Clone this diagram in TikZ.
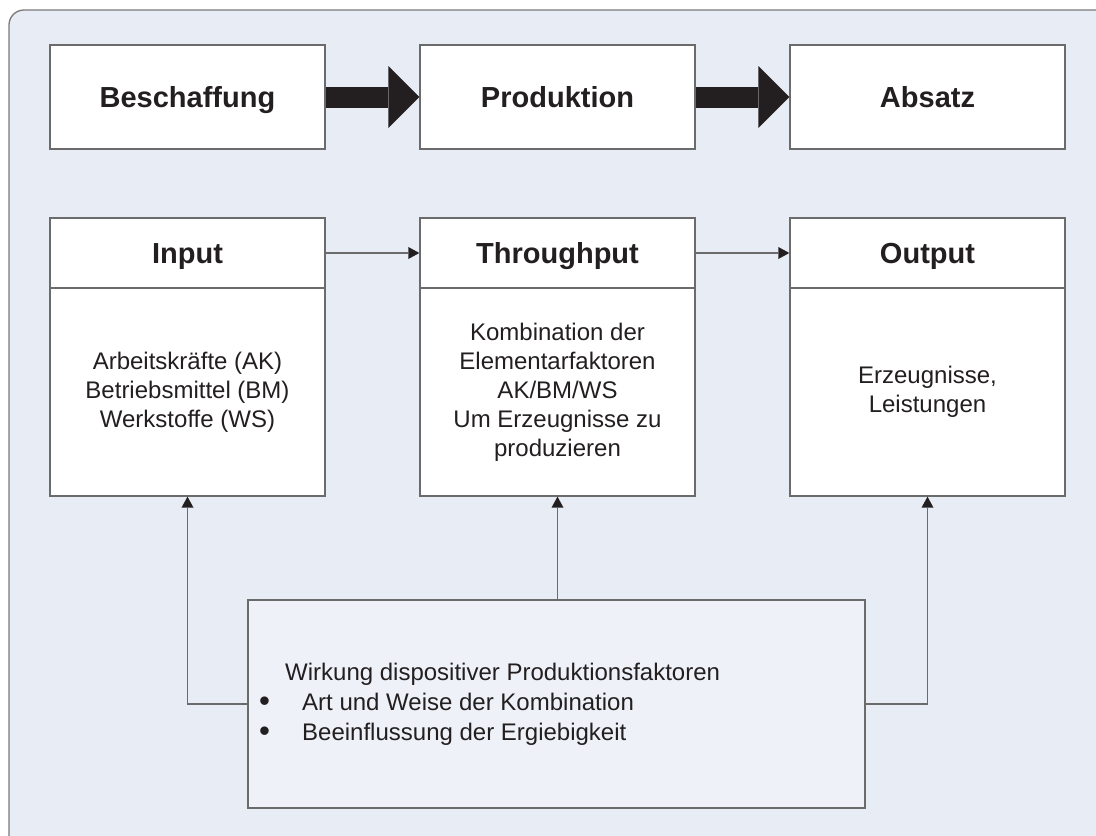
\documentclass[tikz,border=0pt]{standalone}
\usepackage{fontspec}
\setmainfont{Liberation Sans}
\usetikzlibrary{arrows.meta}
\definecolor{bgblue}{HTML}{E8ECF5}
\definecolor{wirkfill}{HTML}{EEF1F7}
\definecolor{boxgray}{HTML}{6B6B6B}
\definecolor{rahmen}{HTML}{7A7A7A}
\definecolor{textdark}{HTML}{231F20}

\newcommand{\dickpunkt}{\makebox[43pt][l]{\smash{\raisebox{-1.5pt}{\scalebox{1.3}{\textbullet}}}}}

\tikzset{
  kasten/.style={draw=boxgray, line width=1.3pt, fill=white, minimum width=275pt, inner sep=0pt, text=textdark},
  titel/.style={kasten, minimum height=104pt, text height=21pt, text depth=0pt, font=\fontsize{29}{34}\selectfont\bfseries},
  kopf/.style={kasten, minimum height=70pt, text height=21pt, text depth=0pt, font=\fontsize{29}{34}\selectfont\bfseries},
  rumpf/.style={kasten, minimum height=208pt, align=center, font=\fontsize{24}{29}\selectfont},
  fluss/.style={draw=textdark, line width=21pt, -{Triangle[length=31pt,width=62pt,line width=0pt]}},
  pfeil/.style={draw=boxgray, line width=1.2pt, -{Triangle[length=11pt,width=12pt,line width=0pt,color=textdark]}},
}

\begin{document}
\begin{tikzpicture}[x=1pt,y=-1pt]
\useasboundingbox (0,0) rectangle (1096,836);
\begin{scope}
\clip (0,0) rectangle (1096,836);
\draw [rahmen, fill=bgblue, line width=1.3pt, rounded corners=15pt] (9,10) rectangle (1120,860);
\end{scope}

\node [titel] (besch) at (187.5,97) {Beschaffung};
\node [titel] (prod) at (557.5,97) {Produktion};
\node [titel] (absatz) at (927.5,97) {Absatz};

\node [kopf] (inkopf) at (187.5,253) {Input};
\node [kopf] (durchkopf) at (557.5,253) {Throughput};
\node [kopf] (outkopf) at (927.5,253) {Output};
\node [rumpf] (inbody) at (187.5,392) {Arbeitskräfte (AK)\\Betriebsmittel (BM)\\Werkstoffe (WS)};
\node [rumpf] (durchbody) at (557.5,392) {Kombination der\\Elementarfaktoren\\AK/BM/WS\\Um Erzeugnisse zu\\produzieren};
\node [rumpf] (outbody) at (927.5,392) {Erzeugnisse,\\Leistungen};

\node [kasten, fill=wirkfill, minimum width=617pt, minimum height=208pt] (wirk) at (556.5,704) {};
\node [anchor=west, align=left, inner sep=0pt, text=textdark, font=\fontsize{24}{30}\selectfont] (wirktext) at (259,704)
  {\hspace*{26pt}Wirkung dispositiver Produktionsfaktoren\\
   \dickpunkt Art und Weise der Kombination\\
   \dickpunkt Beeinflussung der Ergiebigkeit};

\draw [fluss] (besch.east) -- (prod.west);
\draw [fluss] (prod.east) -- (absatz.west);
\draw [pfeil] (inkopf.east) -- (durchkopf.west);
\draw [pfeil] (durchkopf.east) -- (outkopf.west);
\draw [pfeil] (wirk.west) -| (inbody.south);
\draw [pfeil] (wirk.north -| durchbody.south) -- (durchbody.south);
\draw [pfeil] (wirk.east) -| (outbody.south);
\end{tikzpicture}
\end{document}
